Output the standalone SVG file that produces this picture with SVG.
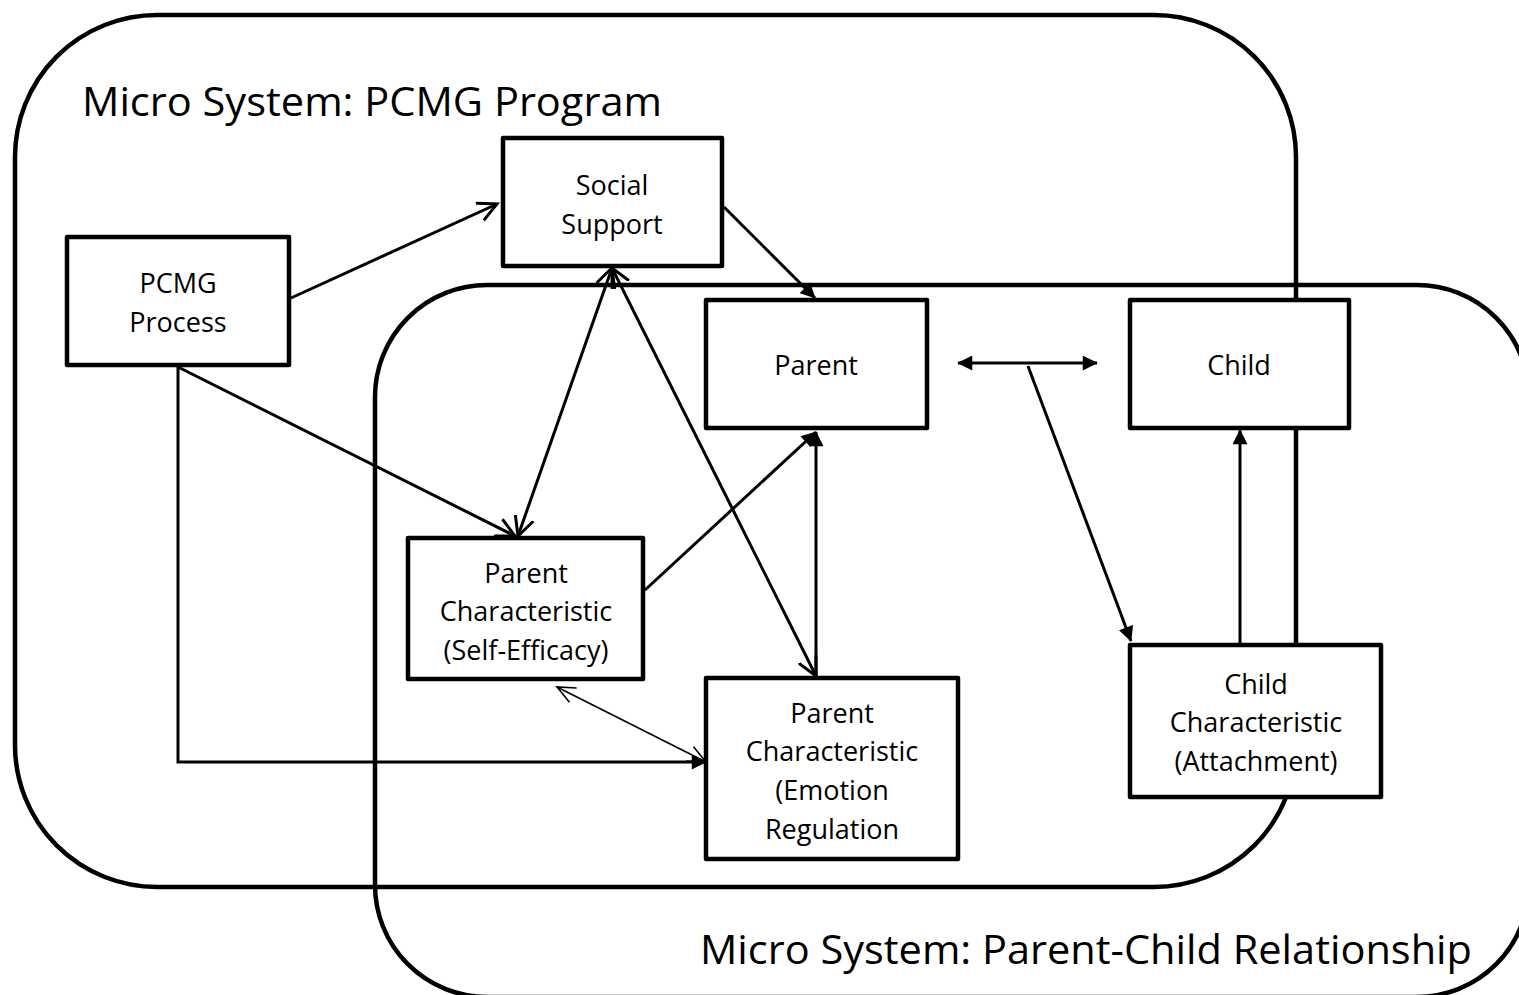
<svg xmlns="http://www.w3.org/2000/svg" width="1519" height="995" viewBox="0 0 1519 995">
<style>
.cont{fill:none;stroke:#000;stroke-width:4.5}
.box{fill:#fff;stroke:#000;stroke-width:4.5;stroke-linejoin:round}
.lbl{font-family:"Open Sans","Noto Sans",sans-serif;font-size:27px;fill:#000;text-anchor:middle}
.title{font-family:"Open Sans","Noto Sans",sans-serif;font-size:41px;fill:#000}
.c{fill:none;stroke:#000;stroke-width:3}
.thin{fill:none;stroke:#000;stroke-width:1.6}
</style>
<defs>
<marker id="fa" viewBox="0 0 10 10" refX="9.5" refY="5" markerUnits="userSpaceOnUse" markerWidth="16" markerHeight="15" orient="auto-start-reverse">
<path d="M0,0 L10,5 L0,10 z" fill="#000"/>
</marker>
<marker id="oa" viewBox="0 0 22 22" refX="19" refY="11" markerUnits="userSpaceOnUse" markerWidth="22" markerHeight="22" orient="auto-start-reverse">
<path d="M1,2 L19,11 L1,20" fill="none" stroke="#000" stroke-width="3" stroke-linecap="round"/>
</marker>
<marker id="ot" viewBox="0 0 22 22" refX="20" refY="11" markerUnits="userSpaceOnUse" markerWidth="22" markerHeight="22" orient="auto-start-reverse">
<path d="M2,3 L20,11 L2,19" fill="none" stroke="#000" stroke-width="1.6"/>
</marker>
</defs>
<rect width="1519" height="995" fill="#fff"/>
<g id="containers">
<rect id="sys-pcmg" class="cont" x="15" y="15" width="1281" height="872" rx="142" ry="142"/>
<rect id="sys-pc" class="cont" x="375" y="285" width="1154" height="712" rx="112" ry="112"/>
<text class="title" x="82" y="116" textLength="580" lengthAdjust="spacingAndGlyphs">Micro System: PCMG Program</text>
<text class="title" x="700" y="964" textLength="772" lengthAdjust="spacingAndGlyphs">Micro System: Parent-Child Relationship</text>
</g>
<g id="connectors">
<line class="c" x1="291" y1="298" x2="497" y2="204" marker-end="url(#oa)"/>
<line class="c" x1="724" y1="207" x2="815" y2="298" marker-end="url(#fa)"/>
<line class="c" x1="612" y1="268" x2="518" y2="536" marker-start="url(#oa)" marker-end="url(#oa)"/>
<line class="c" x1="612" y1="268" x2="816" y2="676" marker-start="url(#oa)" marker-end="url(#oa)"/>
<line class="c" x1="178" y1="367" x2="515" y2="536" marker-end="url(#oa)"/>
<line class="c" x1="645" y1="590" x2="816" y2="432" marker-end="url(#fa)"/>
<line class="c" x1="816" y1="676" x2="816" y2="432" marker-end="url(#fa)"/>
<path class="c" d="M178,367 V762 H706" marker-end="url(#fa)"/>
<line class="thin" x1="557" y1="687" x2="706" y2="762" marker-start="url(#ot)" marker-end="url(#ot)"/>
<line class="c" x1="958" y1="363" x2="1097" y2="363" marker-start="url(#fa)" marker-end="url(#fa)"/>
<line class="c" x1="1028" y1="366" x2="1131" y2="641" marker-end="url(#fa)"/>
<line class="c" x1="1240" y1="643" x2="1240" y2="430" marker-end="url(#fa)"/>
</g>
<g id="n-pcmg">
<rect class="box" x="67" y="237" width="222" height="128"/>
<text class="lbl" x="178" y="293">PCMG</text>
<text class="lbl" x="178" y="332">Process</text>
</g>
<g id="n-social">
<rect class="box" x="503" y="138" width="219" height="128"/>
<text class="lbl" x="612" y="195">Social</text>
<text class="lbl" x="612" y="234">Support</text>
</g>
<g id="n-parent">
<rect class="box" x="706" y="300" width="221" height="128"/>
<text class="lbl" x="816" y="375">Parent</text>
</g>
<g id="n-child">
<rect class="box" x="1130" y="300" width="219" height="128"/>
<text class="lbl" x="1239" y="375">Child</text>
</g>
<g id="n-selfeff">
<rect class="box" x="408" y="538" width="235" height="141"/>
<text class="lbl" x="526" y="583">Parent</text>
<text class="lbl" x="526" y="621">Characteristic</text>
<text class="lbl" x="526" y="660">(Self-Efficacy)</text>
</g>
<g id="n-emotion">
<rect class="box" x="706" y="678" width="252" height="181"/>
<text class="lbl" x="832" y="723">Parent</text>
<text class="lbl" x="832" y="761">Characteristic</text>
<text class="lbl" x="832" y="800">(Emotion</text>
<text class="lbl" x="832" y="839">Regulation</text>
</g>
<g id="n-attach">
<rect class="box" x="1130" y="645" width="251" height="152"/>
<text class="lbl" x="1256" y="694">Child</text>
<text class="lbl" x="1256" y="732">Characteristic</text>
<text class="lbl" x="1256" y="771">(Attachment)</text>
</g>
</svg>
